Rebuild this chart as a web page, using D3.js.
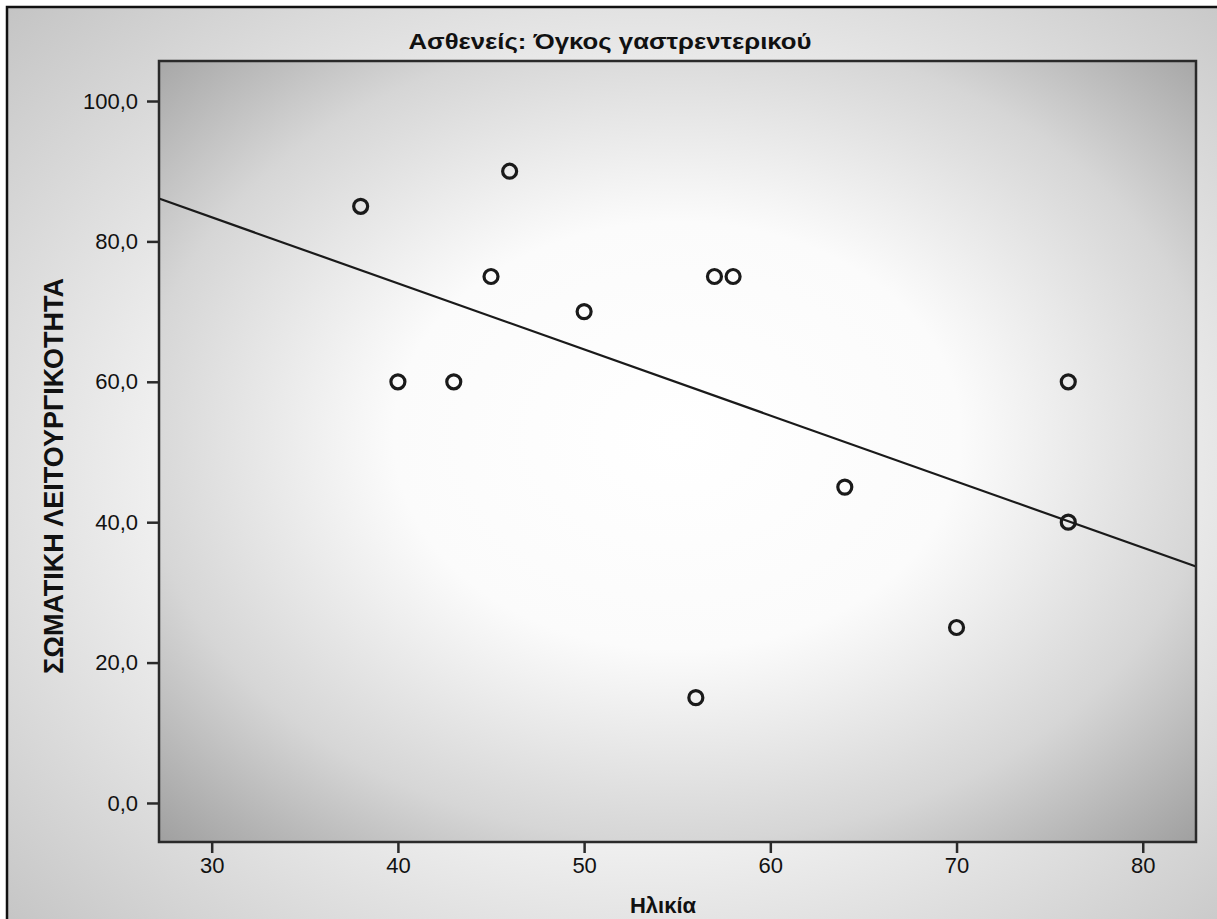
<!DOCTYPE html>
<html>
<head>
<meta charset="utf-8">
<script src="https://cdn.jsdelivr.net/npm/d3@7"></script>
<style>
  body { margin: 0; background: #fff; }
  text { font-family: "Liberation Sans", Arial, sans-serif; fill: #111; }
</style>
</head>
<body>
<svg id="chart"></svg>
<script>
// Data
const ages = [38, 40, 43, 45, 46, 50, 56, 57, 58, 64, 70, 76, 76];
const scores = [85, 60, 60, 75, 90, 70, 15, 75, 75, 45, 25, 60, 40];
const xTicks = [30, 40, 50, 60, 70, 80];
const yTicks = [0, 20, 40, 60, 80, 100];
const title = "Ασθενείς: Όγκος γαστρεντερικού";
const xTitle = "Ηλικία";
const yTitle = "ΣΩΜΑΤΙΚΗ ΛΕΙΤΟΥΡΓΙΚΟΤΗΤΑ";

const data = ages.map((a, i) => ({ x: a, y: scores[i] }));

// Chart dimensions
const width = 1217;
const height = 919;
const plot = { left: 159, top: 61, right: 1196, bottom: 842 };

const xScale = d3.scaleLinear().domain([27.17, 82.86]).range([plot.left, plot.right]);
const yScale = d3.scaleLinear().domain([-5.56, 105.7]).range([plot.bottom, plot.top]);

const svg = d3.select("#chart").attr("width", width).attr("height", height);

// Gradients
const defs = svg.append("defs");
const outerGrad = defs.append("radialGradient").attr("id", "outerGrad")
  .attr("cx", "52%").attr("cy", "50%").attr("r", "72%");
outerGrad.append("stop").attr("offset", "0%").attr("stop-color", "#ffffff");
outerGrad.append("stop").attr("offset", "55%").attr("stop-color", "#f0f0f0");
outerGrad.append("stop").attr("offset", "100%").attr("stop-color", "#c4c4c4");

const plotGrad = defs.append("radialGradient").attr("id", "plotGrad")
  .attr("cx", "50%").attr("cy", "48%").attr("r", "72%");
plotGrad.append("stop").attr("offset", "0%").attr("stop-color", "#ffffff");
plotGrad.append("stop").attr("offset", "38%").attr("stop-color", "#fbfbfb");
plotGrad.append("stop").attr("offset", "72%").attr("stop-color", "#d6d6d6");
plotGrad.append("stop").attr("offset", "100%").attr("stop-color", "#a0a0a0");

// Outer frame (cropped at right and bottom)
svg.append("rect")
  .attr("x", 7).attr("y", 7)
  .attr("width", width + 10).attr("height", height + 10)
  .attr("fill", "url(#outerGrad)")
  .attr("stroke", "#111").attr("stroke-width", 2.5);

// Plot area
svg.append("rect")
  .attr("x", plot.left).attr("y", plot.top)
  .attr("width", plot.right - plot.left).attr("height", plot.bottom - plot.top)
  .attr("fill", "url(#plotGrad)");

// Regression line (least squares from the points)
const mx = d3.mean(ages), my = d3.mean(scores);
const slope = d3.sum(data, (d) => (d.x - mx) * (d.y - my)) / d3.sum(data, (d) => (d.x - mx) ** 2);
const intercept = my - slope * mx;
const fitLine = d3.line().x((d) => xScale(d)).y((d) => yScale(intercept + slope * d));
svg.append("path")
  .datum(xScale.domain())
  .attr("d", fitLine)
  .attr("fill", "none")
  .attr("stroke", "#1a1a1a")
  .attr("stroke-width", 2.2);

// Points
svg.selectAll(".dot")
  .data(data)
  .enter()
  .append("circle")
  .attr("class", "dot")
  .attr("cx", (d) => xScale(d.x))
  .attr("cy", (d) => yScale(d.y))
  .attr("r", 7)
  .attr("fill", "none")
  .attr("stroke", "#1a1a1a")
  .attr("stroke-width", 3.2);

// Axes
const greek = d3.formatLocale({ decimal: ",", thousands: ".", grouping: [3], currency: ["", "€"] });
const xAxis = d3.axisBottom(xScale).tickValues(xTicks).tickSize(11).tickSizeOuter(0).tickPadding(4);
const yAxis = d3.axisLeft(yScale).tickValues(yTicks).tickSize(12).tickSizeOuter(0).tickPadding(9)
  .tickFormat(greek.format(".1f"));

const gx = svg.append("g")
  .attr("transform", `translate(0, ${plot.bottom})`)
  .call(xAxis);
const gy = svg.append("g")
  .attr("transform", `translate(${plot.left}, 0)`)
  .call(yAxis);

[gx, gy].forEach((g) => {
  g.select(".domain").remove();
  g.selectAll("line").attr("stroke", "#2a2a2a").attr("stroke-width", 2.5);
  g.selectAll("text")
    .attr("fill", "#111")
    .style("font-family", "'Liberation Sans', Arial, sans-serif")
    .style("font-size", "22px");
});

// Plot frame
svg.append("rect")
  .attr("x", plot.left).attr("y", plot.top)
  .attr("width", plot.right - plot.left).attr("height", plot.bottom - plot.top)
  .attr("fill", "none")
  .attr("stroke", "#2a2a2a")
  .attr("stroke-width", 2.5);

// Titles
svg.append("text")
  .attr("x", 610).attr("y", 49)
  .attr("text-anchor", "middle")
  .attr("textLength", 403)
  .attr("lengthAdjust", "spacingAndGlyphs")
  .style("font-weight", "bold")
  .style("font-size", "22px")
  .text(title);

svg.append("text")
  .attr("x", 663).attr("y", 913)
  .attr("text-anchor", "middle")
  .style("font-weight", "bold")
  .style("font-size", "22px")
  .text(xTitle);

svg.append("text")
  .attr("transform", "translate(63, 476) rotate(-90)")
  .attr("text-anchor", "middle")
  .style("font-weight", "bold")
  .style("font-size", "27px")
  .text(yTitle);
</script>
</body>
</html>
